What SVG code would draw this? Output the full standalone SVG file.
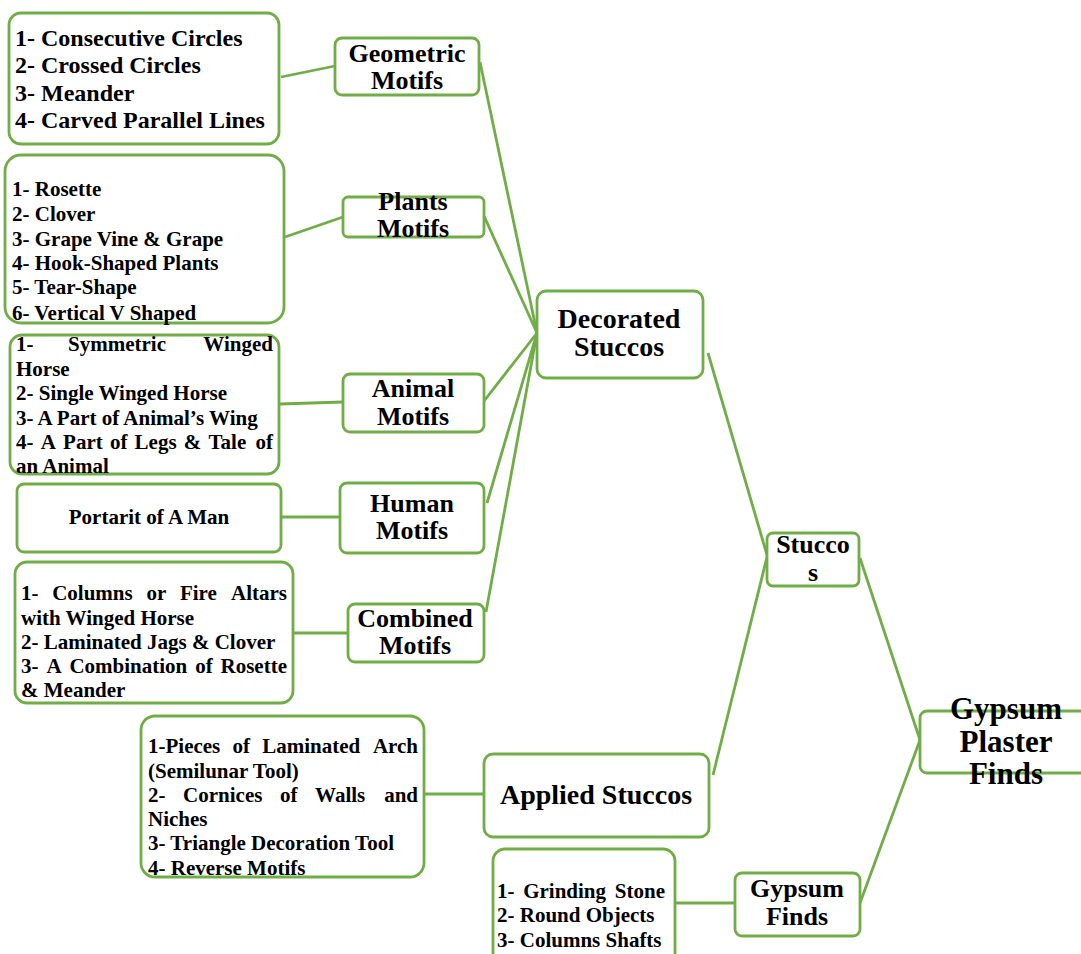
<svg xmlns="http://www.w3.org/2000/svg" width="1081" height="954" viewBox="0 0 1081 954">
<style>
.box{fill:#fff;stroke:#70AD47;stroke-width:2.8}
.ln{stroke:#70AD47;stroke-width:2.8;fill:none}
text{font-family:"Liberation Serif","Times New Roman",serif;font-weight:bold;fill:#000}
.l{font-size:21px}
.lg{font-size:24px}
.t{font-size:26px;text-anchor:middle}
.tb{font-size:28px;text-anchor:middle}
.tc{font-size:31px;text-anchor:middle}
.e{text-anchor:end}
</style>
<rect width="1081" height="954" fill="#fff"/>
<g id="connectors">
<line class="ln" x1="281" y1="77" x2="335" y2="66"/>
<line class="ln" x1="285" y1="237" x2="343" y2="217"/>
<line class="ln" x1="280" y1="404" x2="343" y2="402"/>
<line class="ln" x1="281" y1="517" x2="340" y2="517"/>
<line class="ln" x1="294" y1="633" x2="348" y2="633"/>
<line class="ln" x1="425" y1="794" x2="483" y2="794"/>
<line class="ln" x1="675" y1="903" x2="735" y2="903"/>
<line class="ln" x1="480" y1="62" x2="537" y2="333"/>
<line class="ln" x1="484" y1="216" x2="537" y2="333"/>
<line class="ln" x1="484" y1="401" x2="537" y2="333"/>
<line class="ln" x1="487" y1="503" x2="537" y2="333"/>
<line class="ln" x1="486" y1="612" x2="537" y2="333"/>
<line class="ln" x1="708" y1="353" x2="767" y2="555"/>
<line class="ln" x1="713" y1="775" x2="767" y2="557"/>
<line class="ln" x1="860" y1="558" x2="920" y2="740"/>
<line class="ln" x1="860" y1="903" x2="920" y2="740"/>
</g>
<g id="geometric-list">
<rect class="box" x="9" y="13" width="270" height="131" rx="12"/>
<text class="lg" x="15" y="46">1- Consecutive Circles</text>
<text class="lg" x="15" y="73">2- Crossed Circles</text>
<text class="lg" x="15" y="101">3- Meander</text>
<text class="lg" x="15" y="128">4- Carved Parallel Lines</text>
</g>
<g id="geometric">
<rect class="box" x="335" y="38" width="144" height="57" rx="7"/>
<text class="t"><tspan x="407" y="62">Geometric</tspan><tspan x="407" y="89">Motifs</tspan></text>
</g>
<g id="plants-list">
<rect class="box" x="5" y="155" width="279" height="168" rx="16"/>
<text class="l" x="12" y="196">1- Rosette</text>
<text class="l" x="12" y="221">2- Clover</text>
<text class="l" x="12" y="246">3- Grape Vine &amp; Grape</text>
<text class="l" x="12" y="270">4- Hook-Shaped Plants</text>
<text class="l" x="12" y="294">5- Tear-Shape</text>
<text class="l" x="12" y="320">6- Vertical V Shaped</text>
</g>
<g id="plants">
<rect class="box" x="343" y="197" width="141" height="40" rx="5"/>
<text class="t"><tspan x="413" y="210">Plants</tspan><tspan x="413" y="237">Motifs</tspan></text>
</g>
<g id="animal-list">
<rect class="box" x="10" y="335" width="269" height="139" rx="12"/>
<text class="l" y="351"><tspan x="16">1-</tspan><tspan x="68">Symmetric</tspan><tspan x="273" class="e">Winged</tspan></text>
<text class="l" x="16" y="376">Horse</text>
<text class="l" x="16" y="400">2- Single Winged Horse</text>
<text class="l" x="16" y="425">3- A Part of Animal’s Wing</text>
<text class="l" y="449"><tspan x="16">4-</tspan><tspan x="40.7">A</tspan><tspan x="63.1">Part</tspan><tspan x="109.9">of</tspan><tspan x="134.6">Legs</tspan><tspan x="183.8">&amp;</tspan><tspan x="208.5">Tale</tspan><tspan x="273" class="e">of</tspan></text>
<text class="l" x="16" y="473">an Animal</text>
</g>
<g id="animal">
<rect class="box" x="343" y="374" width="141" height="58" rx="7"/>
<text class="t"><tspan x="413" y="397">Animal</tspan><tspan x="413" y="425">Motifs</tspan></text>
</g>
<g id="human-list">
<rect class="box" x="17" y="484" width="264" height="68" rx="7"/>
<text class="l" x="149" y="524" style="text-anchor:middle">Portarit of A Man</text>
</g>
<g id="human">
<rect class="box" x="340" y="483" width="144" height="70" rx="7"/>
<text class="t"><tspan x="412" y="512">Human</tspan><tspan x="412" y="539">Motifs</tspan></text>
</g>
<g id="combined-list">
<rect class="box" x="15" y="562" width="278" height="141" rx="12"/>
<text class="l" y="600"><tspan x="21">1-</tspan><tspan x="52.2">Columns</tspan><tspan x="146.4">or</tspan><tspan x="179.9">Fire</tspan><tspan x="287" class="e">Altars</tspan></text>
<text class="l" x="21" y="625">with Winged Horse</text>
<text class="l" x="21" y="649">2- Laminated Jags &amp; Clover</text>
<text class="l" y="673"><tspan x="21">3-</tspan><tspan x="46.4">A</tspan><tspan x="69.4">Combination</tspan><tspan x="195.2">of</tspan><tspan x="287" class="e">Rosette</tspan></text>
<text class="l" x="21" y="697">&amp; Meander</text>
</g>
<g id="combined">
<rect class="box" x="348" y="604" width="136" height="58" rx="7"/>
<text class="t"><tspan x="415" y="627">Combined</tspan><tspan x="415" y="654">Motifs</tspan></text>
</g>
<g id="decorated">
<rect class="box" x="537" y="291" width="166" height="87" rx="9"/>
<text class="tb"><tspan x="619" y="328">Decorated</tspan><tspan x="619" y="356">Stuccos</tspan></text>
</g>
<g id="applied-list">
<rect class="box" x="141" y="716" width="283" height="161" rx="14"/>
<text class="l" y="753"><tspan x="148">1-Pieces</tspan><tspan x="232.5">of</tspan><tspan x="262.2">Laminated</tspan><tspan x="418" class="e">Arch</tspan></text>
<text class="l" x="148" y="778">(Semilunar Tool)</text>
<text class="l" y="802"><tspan x="148">2-</tspan><tspan x="183.1">Cornices</tspan><tspan x="280">of</tspan><tspan x="315.1">Walls</tspan><tspan x="418" class="e">and</tspan></text>
<text class="l" x="148" y="826">Niches</text>
<text class="l" x="148" y="850">3- Triangle Decoration Tool</text>
<text class="l" x="148" y="875">4- Reverse Motifs</text>
</g>
<g id="applied">
<rect class="box" x="484" y="754" width="225" height="83" rx="9"/>
<text class="tb" x="596" y="804">Applied Stuccos</text>
</g>
<g id="stuccos">
<rect class="box" x="767" y="533" width="92" height="53" rx="6"/>
<text class="t"><tspan x="813" y="553">Stucco</tspan><tspan x="813" y="581">s</tspan></text>
</g>
<g id="gypsum-list">
<rect class="box" x="493" y="849" width="182" height="120" rx="12"/>
<text class="l" y="898"><tspan x="497">1-</tspan><tspan x="523.2">Grinding</tspan><tspan x="665" class="e">Stone</tspan></text>
<text class="l" x="497" y="922">2- Round Objects</text>
<text class="l" x="497" y="947">3- Columns Shafts</text>
</g>
<g id="gypsum-finds">
<rect class="box" x="735" y="873" width="125" height="63" rx="7"/>
<text class="t"><tspan x="797" y="897">Gypsum</tspan><tspan x="797" y="925">Finds</tspan></text>
</g>
<g id="gypsum-plaster">
<rect class="box" x="920" y="711" width="175" height="62" rx="7"/>
<text class="tc"><tspan x="1006" y="719">Gypsum</tspan><tspan x="1006" y="752">Plaster</tspan><tspan x="1006" y="784">Finds</tspan></text>
</g>
</svg>
